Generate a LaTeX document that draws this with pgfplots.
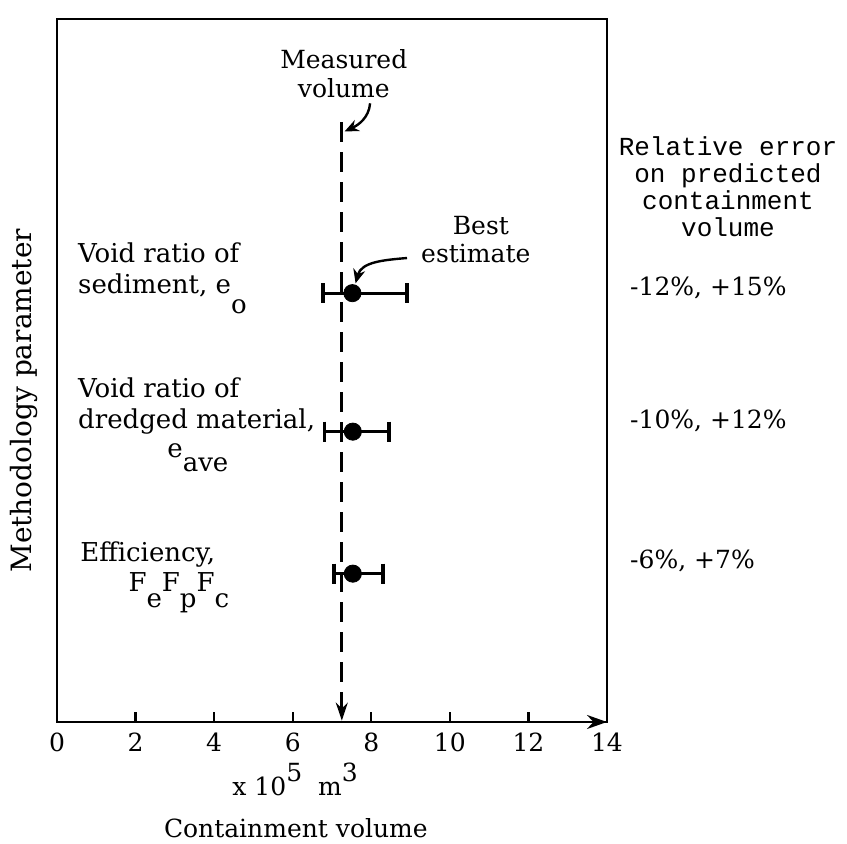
\documentclass[border=0pt]{standalone}
\usepackage{pgfplots}
\pgfplotsset{compat=1.18}
\usepackage{fontspec}
\setmainfont{DejaVu Serif}
\newfontfamily\monofont{Liberation Mono}
\usetikzlibrary{arrows.meta}
\begin{document}
\begin{tikzpicture}[font=\fontsize{12.5}{16.5}\selectfont]
\useasboundingbox (-28.5pt,-61pt) rectangle (395pt,361pt);
\begin{axis}[
  at={(0,0)}, anchor=south west,
  scale only axis, width=275pt, height=351.5pt,
  xmin=0, xmax=14, ymin=0, ymax=10,
  clip=false,
  axis line style={line width=1.2pt},
  xtick={0,2,...,14},
  xtick pos=bottom, xtick align=inside,
  major tick length=5pt,
  tick style={line width=1.2pt, black},
  ytick=\empty,
  /pgf/number format/assume math mode=true,
  xticklabel style={font=\fontsize{12.5}{15}\selectfont, yshift=-2pt},
]
\addplot[black, line width=1.4pt, dash pattern=on 10pt off 5pt,
  -{Stealth[length=9pt,width=6pt]}] coordinates {(7.25,8.53) (7.25,0.02)};
% error ranges
\addplot[black, line width=1.6pt, mark=|, mark size=5pt, mark options={solid, line width=1.6pt}] coordinates {(6.77,6.10) (8.91,6.10)};
\addplot[black, line width=1.6pt, mark=|, mark size=5pt, mark options={solid, line width=1.6pt}] coordinates {(6.80,4.13) (8.45,4.13)};
\addplot[black, line width=1.6pt, mark=|, mark size=5pt, mark options={solid, line width=1.6pt}] coordinates {(7.05,2.11) (8.30,2.11)};
% best estimates
\addplot[black, only marks, mark=*, mark size=4.3pt] coordinates {(7.52,6.10) (7.53,4.13) (7.53,2.11)};
% x axis arrow
\draw[line width=1.2pt, -{Stealth[length=10pt,width=7pt]}] (axis cs:13,0) -- (axis cs:14,0);
% annotations
\node[anchor=base] at (axis cs:7.3,9.30) {Measured};
\node[anchor=base] at (axis cs:7.3,8.88) {volume};
\draw[line width=1.2pt, -{Stealth[length=7pt,width=6pt]}] (axis cs:7.97,8.80) to[out=-95,in=25] (axis cs:7.32,8.40);
\node[anchor=base] at (axis cs:10.79,6.93) {Best};
\node[anchor=base] at (axis cs:10.66,6.53) {estimate};
\draw[line width=1.2pt, -{Stealth[length=7pt,width=6pt]}] (axis cs:8.91,6.60) to[out=185,in=75] (axis cs:7.60,6.24);
% left parameter labels
\begin{scope}[font=\fontsize{13}{16.5}\selectfont]
\node[anchor=base west, inner sep=0pt] at (axis cs:0.53,6.53) {Void ratio of};
\node[anchor=base west, inner sep=0pt] at (axis cs:0.53,6.10) {sediment, e\raisebox{-10pt}{o}};
\node[anchor=base west, inner sep=0pt] at (axis cs:0.53,4.61) {Void ratio of};
\node[anchor=base west, inner sep=0pt] at (axis cs:0.53,4.18) {dredged material,};
\node[anchor=base west, inner sep=0pt] at (axis cs:2.80,3.76) {e\raisebox{-7pt}{ave}};
\node[anchor=base west, inner sep=0pt] at (axis cs:0.585,2.28) {Efficiency,};
\node[anchor=base west, inner sep=0pt] at (axis cs:1.81,1.85) {F\raisebox{-8pt}{e}F\raisebox{-8pt}{p}F\raisebox{-8pt}{c}};
\end{scope}
% right column
\node[align=center, font=\monofont\fontsize{13}{13.5}\selectfont] at (axis cs:17.08,7.62) {Relative error\\on predicted\\containment\\volume};
\node[anchor=base west, inner sep=0pt] at (axis cs:14.58,6.07) {-12\%, +15\%};
\node[anchor=base west, inner sep=0pt] at (axis cs:14.58,4.18) {-10\%, +12\%};
\node[anchor=base west, inner sep=0pt] at (axis cs:14.58,2.19) {-6\%, +7\%};
% axis labels
\node[anchor=base] at (axis cs:6.06,-1.04) {x 10\raisebox{0.55em}{5}\ \ m\raisebox{0.55em}{3}};
\node[anchor=base] at (axis cs:6.08,-1.64) {Containment volume};
\node[rotate=90, font=\fontsize{14}{16}\selectfont] at (axis cs:-0.84,4.57) {Methodology parameter};
\end{axis}
\end{tikzpicture}
\end{document}
